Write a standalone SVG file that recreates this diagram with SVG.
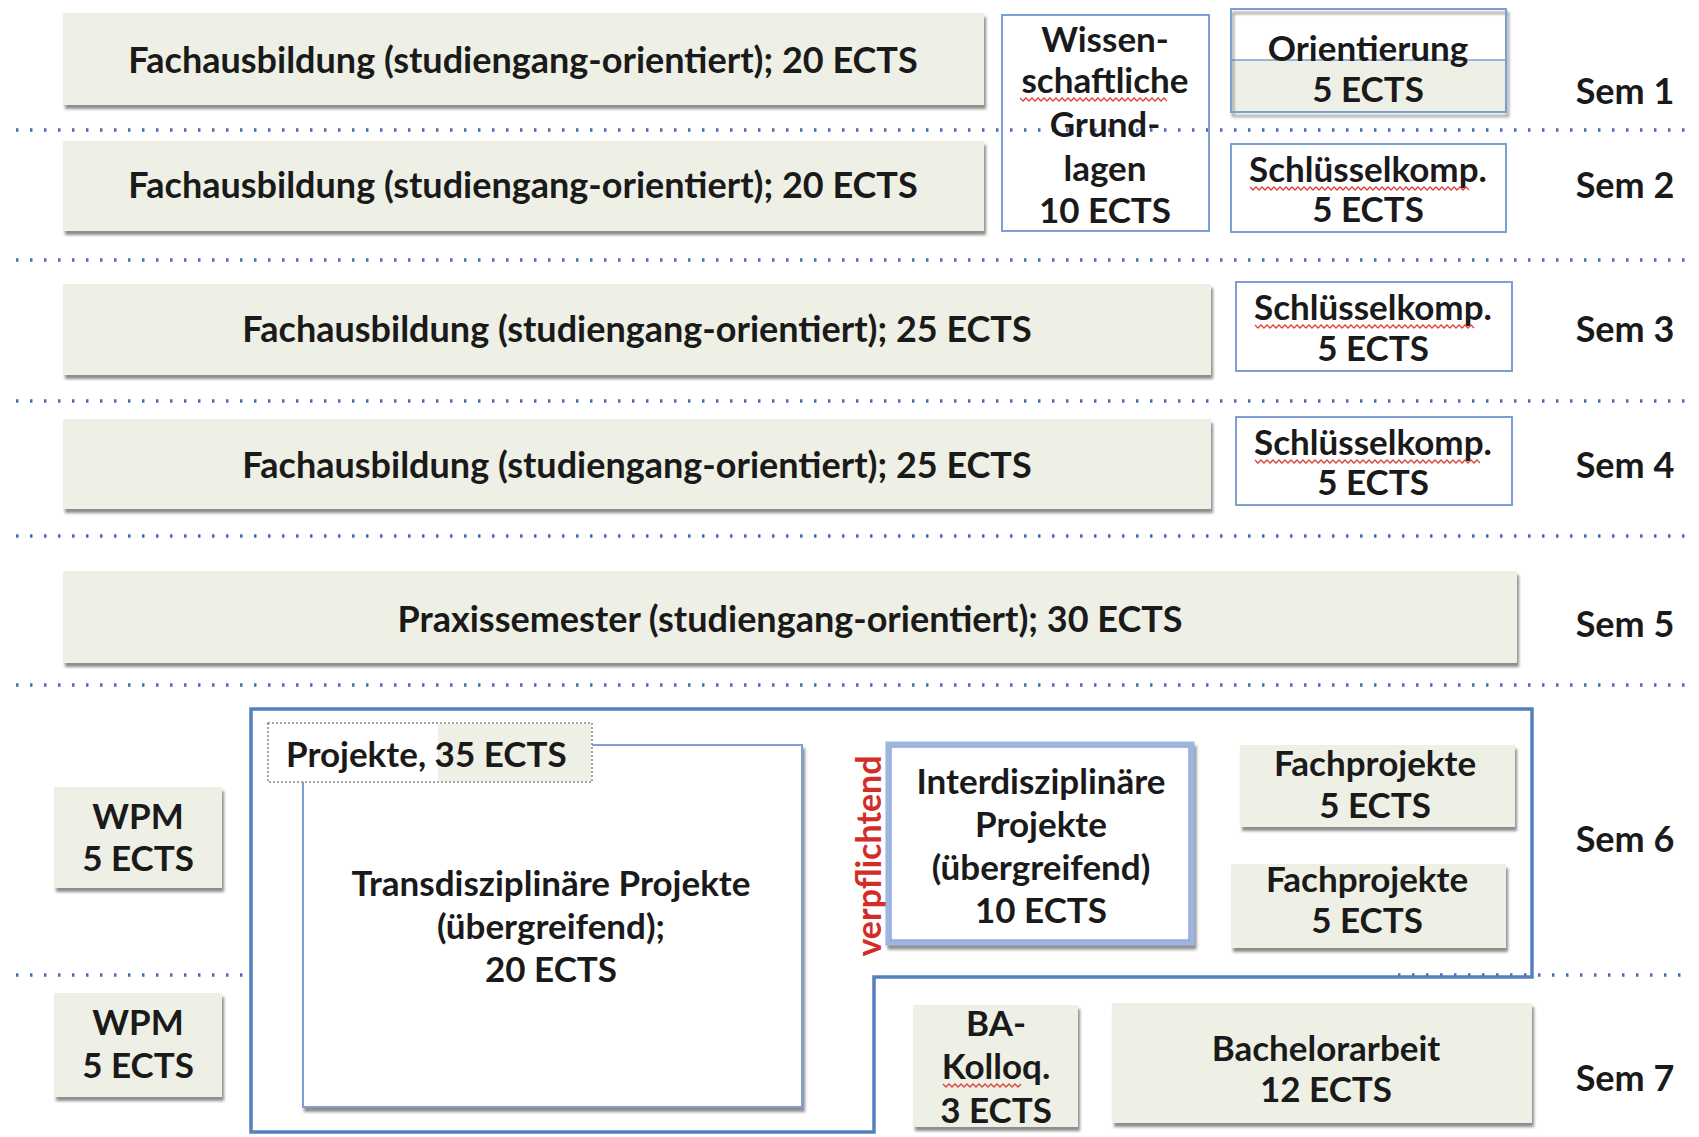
<svg xmlns="http://www.w3.org/2000/svg" width="1699" height="1137" viewBox="0 0 1699 1137">
<defs>
<filter id="sh" x="-5%" y="-10%" width="115%" height="130%">
<feDropShadow dx="2" dy="4" stdDeviation="1.5" flood-color="#666" flood-opacity="0.75"/>
</filter>
<style>
.g{fill:#eef0e6;filter:url(#sh)}
.w{fill:#fff;stroke:#7e9fd4;stroke-width:2}
.t{font-family:Lato,"Liberation Sans",sans-serif;font-weight:700;font-size:35px;fill:#1a1a1a;text-anchor:middle}
.L{font-size:36px}
.dot{stroke:#4a6fb5;stroke-width:3.5;stroke-dasharray:2.5 11.5;fill:none}
.sq{fill:none;stroke:#e0403a;stroke-width:1.3}
</style>
</defs>
<rect width="1699" height="1137" fill="#fff"/>

<g id="separators">
<line class="dot" x1="16" y1="130" x2="1690" y2="130"/>
<line class="dot" x1="16" y1="260" x2="1690" y2="260"/>
<line class="dot" x1="16" y1="401" x2="1690" y2="401"/>
<line class="dot" x1="16" y1="536" x2="1690" y2="536"/>
<line class="dot" x1="16" y1="685" x2="1690" y2="685"/>
<line class="dot" x1="16" y1="975" x2="249" y2="975"/>
<line class="dot" x1="1398" y1="975" x2="1690" y2="975"/>
</g>

<g id="fach1"><rect class="g" x="63" y="13" width="921" height="92"/><text class="t L" x="523" y="73">Fachausbildung (studiengang-orientiert); 20 ECTS</text></g>
<g id="fach2"><rect class="g" x="63" y="141" width="921" height="90"/><text class="t L" x="523" y="198">Fachausbildung (studiengang-orientiert); 20 ECTS</text></g>
<g id="fach3"><rect class="g" x="63" y="284" width="1148" height="91"/><text class="t L" x="637" y="342">Fachausbildung (studiengang-orientiert); 25 ECTS</text></g>
<g id="fach4"><rect class="g" x="63" y="419" width="1148" height="90"/><text class="t L" x="637" y="478">Fachausbildung (studiengang-orientiert); 25 ECTS</text></g>
<g id="praxis"><rect class="g" x="63" y="571" width="1454" height="92"/><text class="t L" x="790" y="632">Praxissemester (studiengang-orientiert); 30 ECTS</text></g>

<g id="wissen">
<rect x="1002" y="15" width="207" height="216" fill="none" stroke="#7e9fd4" stroke-width="2"/>
<text class="t" x="1105" y="52">Wissen-</text>
<text class="t" x="1105" y="93">schaftliche</text>
<path class="sq" d="M1020 98 l3 3 l3 -3 l3 3 l3 -3 l3 3 l3 -3 l3 3 l3 -3 l3 3 l3 -3 l3 3 l3 -3 l3 3 l3 -3 l3 3 l3 -3 l3 3 l3 -3 l3 3 l3 -3 l3 3 l3 -3 l3 3 l3 -3 l3 3 l3 -3 l3 3 l3 -3 l3 3 l3 -3 l3 3 l3 -3 l3 3 l3 -3 l3 3 l3 -3 l3 3 l3 -3 l3 3 l3 -3 l3 3 l3 -3 l3 3 l3 -3 l3 3 l3 -3 l3 3 l3 -3 l3 3"/>
<text class="t" x="1105" y="137">Grund-</text>
<text class="t" x="1105" y="181">lagen</text>
<text class="t" x="1105" y="223">10 ECTS</text>
</g>

<g id="orientierung">
<rect x="1231" y="9" width="275" height="103" fill="#fff"/>
<rect x="1231" y="60" width="275" height="52" fill="#eef0e6"/>
<line x1="1231" y1="60" x2="1506" y2="60" stroke="#7e9fd4" stroke-width="1.5"/>
<rect x="1231" y="9" width="275" height="103" fill="none" stroke="#7e9fd4" stroke-width="2" filter="url(#sh)"/>
<text class="t" x="1368" y="61">Orientierung</text>
<text class="t" x="1368" y="102">5 ECTS</text>
</g>

<g id="schluessel2">
<rect class="w" x="1231" y="144" width="275" height="88"/>
<text class="t" x="1368" y="182">Schlüsselkomp.</text>
<path class="sq" d="M1250 187 l3 3 l3 -3 l3 3 l3 -3 l3 3 l3 -3 l3 3 l3 -3 l3 3 l3 -3 l3 3 l3 -3 l3 3 l3 -3 l3 3 l3 -3 l3 3 l3 -3 l3 3 l3 -3 l3 3 l3 -3 l3 3 l3 -3 l3 3 l3 -3 l3 3 l3 -3 l3 3 l3 -3 l3 3 l3 -3 l3 3 l3 -3 l3 3 l3 -3 l3 3 l3 -3 l3 3 l3 -3 l3 3 l3 -3 l3 3 l3 -3 l3 3 l3 -3 l3 3 l3 -3 l3 3 l3 -3 l3 3 l3 -3 l3 3 l3 -3 l3 3 l3 -3 l3 3 l3 -3 l3 3 l3 -3 l3 3 l3 -3 l3 3 l3 -3 l3 3 l3 -3 l3 3 l3 -3 l3 3 l3 -3 l3 3 l3 -3 l3 3"/>
<text class="t" x="1368" y="222">5 ECTS</text>
</g>
<g id="schluessel3">
<rect class="w" x="1236" y="282" width="276" height="89"/>
<text class="t" x="1373" y="320">Schlüsselkomp.</text>
<path class="sq" d="M1255 325 l3 3 l3 -3 l3 3 l3 -3 l3 3 l3 -3 l3 3 l3 -3 l3 3 l3 -3 l3 3 l3 -3 l3 3 l3 -3 l3 3 l3 -3 l3 3 l3 -3 l3 3 l3 -3 l3 3 l3 -3 l3 3 l3 -3 l3 3 l3 -3 l3 3 l3 -3 l3 3 l3 -3 l3 3 l3 -3 l3 3 l3 -3 l3 3 l3 -3 l3 3 l3 -3 l3 3 l3 -3 l3 3 l3 -3 l3 3 l3 -3 l3 3 l3 -3 l3 3 l3 -3 l3 3 l3 -3 l3 3 l3 -3 l3 3 l3 -3 l3 3 l3 -3 l3 3 l3 -3 l3 3 l3 -3 l3 3 l3 -3 l3 3 l3 -3 l3 3 l3 -3 l3 3 l3 -3 l3 3 l3 -3 l3 3 l3 -3 l3 3"/>
<text class="t" x="1373" y="361">5 ECTS</text>
</g>
<g id="schluessel4">
<rect class="w" x="1236" y="417" width="276" height="88"/>
<text class="t" x="1373" y="455">Schlüsselkomp.</text>
<path class="sq" d="M1255 460 l3 3 l3 -3 l3 3 l3 -3 l3 3 l3 -3 l3 3 l3 -3 l3 3 l3 -3 l3 3 l3 -3 l3 3 l3 -3 l3 3 l3 -3 l3 3 l3 -3 l3 3 l3 -3 l3 3 l3 -3 l3 3 l3 -3 l3 3 l3 -3 l3 3 l3 -3 l3 3 l3 -3 l3 3 l3 -3 l3 3 l3 -3 l3 3 l3 -3 l3 3 l3 -3 l3 3 l3 -3 l3 3 l3 -3 l3 3 l3 -3 l3 3 l3 -3 l3 3 l3 -3 l3 3 l3 -3 l3 3 l3 -3 l3 3 l3 -3 l3 3 l3 -3 l3 3 l3 -3 l3 3 l3 -3 l3 3 l3 -3 l3 3 l3 -3 l3 3 l3 -3 l3 3 l3 -3 l3 3 l3 -3 l3 3 l3 -3 l3 3 l3 -3 l3 3"/>
<text class="t" x="1373" y="495">5 ECTS</text>
</g>

<g id="sem-labels">
<text class="t L" x="1625" y="104">Sem 1</text>
<text class="t L" x="1625" y="198">Sem 2</text>
<text class="t L" x="1625" y="342">Sem 3</text>
<text class="t L" x="1625" y="478">Sem 4</text>
<text class="t L" x="1625" y="637">Sem 5</text>
<text class="t L" x="1625" y="852">Sem 6</text>
<text class="t L" x="1625" y="1091">Sem 7</text>
</g>

<g id="projekt-rahmen">
<path d="M251 1132 V709 H1532 V977 H874 V1132 Z" fill="none" stroke="#5580c0" stroke-width="3.5"/>
</g>

<g id="transdisziplinaer">
<rect class="w" x="303" y="745" width="499" height="362" filter="url(#sh)"/>
<text class="t" x="551" y="896">Transdisziplinäre Projekte</text>
<text class="t" x="551" y="939">(übergreifend);</text>
<text class="t" x="551" y="982">20 ECTS</text>
</g>

<g id="projekte-label">
<rect x="268" y="723" width="324" height="59" fill="#fff"/>
<rect x="438" y="724" width="153" height="57" fill="#eef0e6"/>
<rect x="268" y="723" width="324" height="59" fill="none" stroke="#888" stroke-width="1.5" stroke-dasharray="2 2"/>
<text class="t" x="286" y="767" style="text-anchor:start">Projekte, 35 ECTS</text>
</g>

<g id="verpflichtend">
<text x="0" y="0" transform="translate(881 856) rotate(-90)" style="font-family:Lato,'Liberation Sans',sans-serif;font-weight:700;font-size:34px;fill:#d12e2a;text-anchor:middle">verpflichtend</text>
</g>

<g id="interdisziplinaer">
<rect x="888" y="744" width="304" height="199" fill="#fff" stroke="#9db5df" stroke-width="5" filter="url(#sh)"/>
<rect x="891" y="747" width="298" height="193" fill="none" stroke="#5b7fc0" stroke-width="1"/>
<text class="t" x="1041" y="794">Interdisziplinäre</text>
<text class="t" x="1041" y="837">Projekte</text>
<text class="t" x="1041" y="880">(übergreifend)</text>
<text class="t" x="1041" y="923">10 ECTS</text>
</g>

<g id="fachprojekte1"><rect class="g" x="1240" y="745" width="275" height="82"/><text class="t" x="1375" y="776">Fachprojekte</text><text class="t" x="1375" y="818">5 ECTS</text></g>
<g id="fachprojekte2"><rect class="g" x="1231" y="864" width="275" height="84"/><text class="t" x="1367" y="892">Fachprojekte</text><text class="t" x="1367" y="933">5 ECTS</text></g>

<g id="wpm6"><rect class="g" x="54" y="787" width="168" height="101"/><text class="t" x="138" y="829">WPM</text><text class="t" x="138" y="871">5 ECTS</text></g>
<g id="wpm7"><rect class="g" x="54" y="993" width="168" height="104"/><text class="t" x="138" y="1035">WPM</text><text class="t" x="138" y="1078">5 ECTS</text></g>

<g id="ba-kolloq">
<rect class="g" x="913" y="1005" width="165" height="122"/>
<text class="t" x="996" y="1036">BA-</text>
<text class="t" x="996" y="1079">Kolloq.</text>
<path class="sq" d="M943 1084 l3 3 l3 -3 l3 3 l3 -3 l3 3 l3 -3 l3 3 l3 -3 l3 3 l3 -3 l3 3 l3 -3 l3 3 l3 -3 l3 3 l3 -3 l3 3 l3 -3 l3 3 l3 -3 l3 3 l3 -3 l3 3 l3 -3 l3 3 l3 -3"/>
<text class="t" x="996" y="1123">3 ECTS</text>
</g>
<g id="bachelorarbeit"><rect class="g" x="1112" y="1003" width="420" height="120"/><text class="t" x="1326" y="1061">Bachelorarbeit</text><text class="t" x="1326" y="1102">12 ECTS</text></g>
</svg>
